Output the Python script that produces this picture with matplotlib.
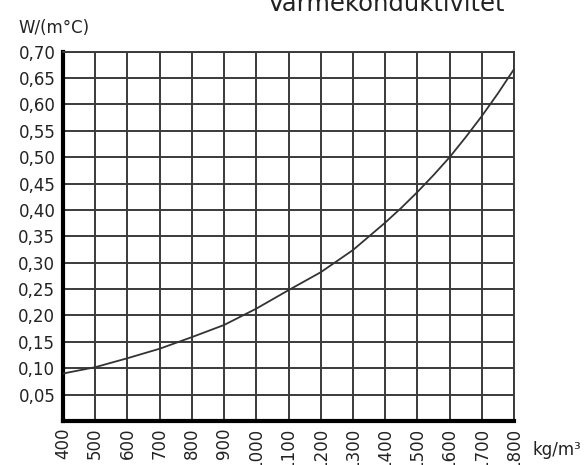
import numpy as np
import matplotlib
matplotlib.use("Agg")
import matplotlib.pyplot as plt

# densitet (kg/m3) og varmekonduktivitet (W/(m°C)) avlest fra kurven
density = [400, 500, 600, 700, 800, 900, 1000, 1100, 1200, 1300, 1350, 1400, 1450,
           1500, 1550, 1600, 1650, 1700, 1750, 1800]
conductivity = [0.090, 0.102, 0.119, 0.137, 0.159, 0.182, 0.213, 0.248, 0.282, 0.324,
                0.350, 0.376, 0.404, 0.434, 0.466, 0.500, 0.538, 0.578, 0.621, 0.667]

x_ticks = list(range(400, 1801, 100))
y_ticks = [0.05, 0.10, 0.15, 0.20, 0.25, 0.30, 0.35, 0.40, 0.45, 0.50, 0.55, 0.60, 0.65, 0.70]
y_labels = ["%.2f" % v for v in y_ticks]
y_labels = [s.replace(".", ",") for s in y_labels]

fig = plt.figure(figsize=(5.87, 4.65), dpi=100)
ax = fig.add_axes([0.1073, 0.0946, 0.8757 - 0.1073, 0.8888 - 0.0946])

ax.plot(density, conductivity, color="#333333", linewidth=1.3, zorder=3)

ax.set_xlim(400, 1800)
ax.set_ylim(0, 0.70)
ax.set_xticks(x_ticks)
ax.set_xticklabels([str(v) for v in x_ticks], rotation=90, fontsize=12, color="#222222")
ax.set_yticks(y_ticks)
ax.set_yticklabels(y_labels, fontsize=12, color="#222222")
ax.tick_params(axis="x", length=0, pad=5)
ax.tick_params(axis="y", length=0, pad=5.5)
ax.grid(True, color="#3a3a3a", linewidth=1.4)
ax.set_axisbelow(True)

for side in ["top", "right"]:
    ax.spines[side].set_color("#3a3a3a")
    ax.spines[side].set_linewidth(1.4)
for side in ["left", "bottom"]:
    ax.spines[side].set_color("black")
    ax.spines[side].set_linewidth(3)

fig.text(18 / 587, 1 - 28 / 465, "W/(m\u00b0C)", fontsize=12, color="#222222",
         ha="left", va="center")
fig.text(532 / 587, 1 - 450 / 465, "kg/m\u00b3", fontsize=12, color="#222222",
         ha="left", va="center")
fig.text(387 / 587, 1 - 11 / 465, "Varmekonduktivitet", fontsize=17.5, color="#222222",
         ha="center", va="baseline")

fig.savefig("out.png", dpi=100)
